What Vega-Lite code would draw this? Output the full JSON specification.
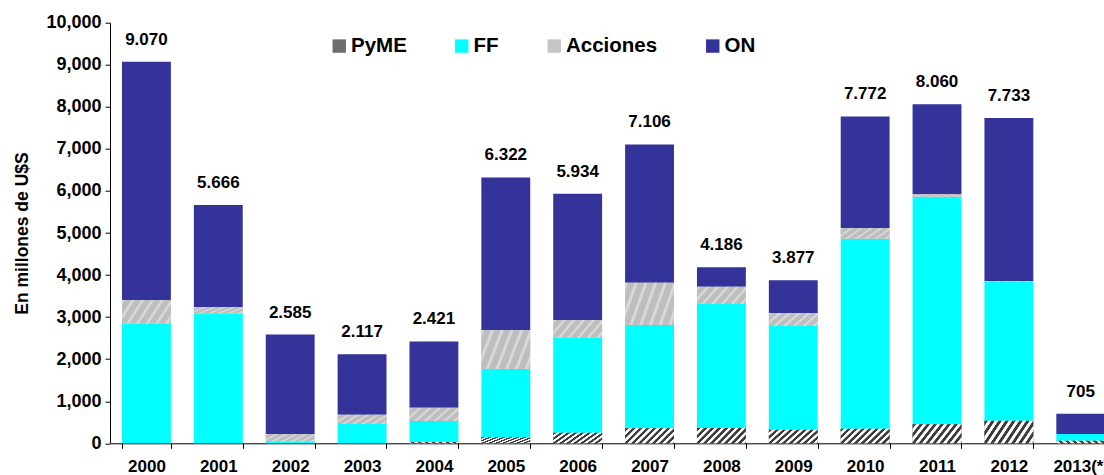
{
  "$schema": "https://vega.github.io/schema/vega-lite/v6.json",
  "width": 994,
  "height": 420.6,
  "autosize": {"type": "none"},
  "padding": {"left": 110, "top": 22.7, "right": 0, "bottom": 31.7},
  "background": "white",
  "config": {
    "view": {"stroke": null},
    "axis": {
      "labelFont": "Liberation Sans",
      "labelFontWeight": "bold",
      "labelColor": "black",
      "titleFont": "Liberation Sans",
      "titleFontWeight": "bold",
      "titleColor": "black",
      "domainColor": "black",
      "tickColor": "black",
      "grid": false
    }
  },
  "datasets": {
    "barras": [
      {"year": "2000", "serie": "PyME", "valor": 0},
      {"year": "2000", "serie": "FF", "valor": 2853},
      {"year": "2000", "serie": "Acciones", "valor": 554},
      {"year": "2000", "serie": "ON", "valor": 5663},
      {"year": "2001", "serie": "PyME", "valor": 0},
      {"year": "2001", "serie": "FF", "valor": 3090},
      {"year": "2001", "serie": "Acciones", "valor": 150},
      {"year": "2001", "serie": "ON", "valor": 2426},
      {"year": "2002", "serie": "PyME", "valor": 0},
      {"year": "2002", "serie": "FF", "valor": 30},
      {"year": "2002", "serie": "Acciones", "valor": 190},
      {"year": "2002", "serie": "ON", "valor": 2365},
      {"year": "2003", "serie": "PyME", "valor": 0},
      {"year": "2003", "serie": "FF", "valor": 459},
      {"year": "2003", "serie": "Acciones", "valor": 221},
      {"year": "2003", "serie": "ON", "valor": 1437},
      {"year": "2004", "serie": "PyME", "valor": 30},
      {"year": "2004", "serie": "FF", "valor": 500},
      {"year": "2004", "serie": "Acciones", "valor": 317},
      {"year": "2004", "serie": "ON", "valor": 1574},
      {"year": "2005", "serie": "PyME", "valor": 143},
      {"year": "2005", "serie": "FF", "valor": 1623},
      {"year": "2005", "serie": "Acciones", "valor": 928},
      {"year": "2005", "serie": "ON", "valor": 3628},
      {"year": "2006", "serie": "PyME", "valor": 252},
      {"year": "2006", "serie": "FF", "valor": 2259},
      {"year": "2006", "serie": "Acciones", "valor": 421},
      {"year": "2006", "serie": "ON", "valor": 3002},
      {"year": "2007", "serie": "PyME", "valor": 356},
      {"year": "2007", "serie": "FF", "valor": 2457},
      {"year": "2007", "serie": "Acciones", "valor": 1006},
      {"year": "2007", "serie": "ON", "valor": 3287},
      {"year": "2008", "serie": "PyME", "valor": 364},
      {"year": "2008", "serie": "FF", "valor": 2948},
      {"year": "2008", "serie": "Acciones", "valor": 412},
      {"year": "2008", "serie": "ON", "valor": 462},
      {"year": "2009", "serie": "PyME", "valor": 325},
      {"year": "2009", "serie": "FF", "valor": 2464},
      {"year": "2009", "serie": "Acciones", "valor": 309},
      {"year": "2009", "serie": "ON", "valor": 779},
      {"year": "2010", "serie": "PyME", "valor": 348},
      {"year": "2010", "serie": "FF", "valor": 4517},
      {"year": "2010", "serie": "Acciones", "valor": 254},
      {"year": "2010", "serie": "ON", "valor": 2653},
      {"year": "2011", "serie": "PyME", "valor": 452},
      {"year": "2011", "serie": "FF", "valor": 5411},
      {"year": "2011", "serie": "Acciones", "valor": 57},
      {"year": "2011", "serie": "ON", "valor": 2140},
      {"year": "2012", "serie": "PyME", "valor": 537},
      {"year": "2012", "serie": "FF", "valor": 3298},
      {"year": "2012", "serie": "Acciones", "valor": 24},
      {"year": "2012", "serie": "ON", "valor": 3874},
      {"year": "2013(*)", "serie": "PyME", "valor": 62},
      {"year": "2013(*)", "serie": "FF", "valor": 159},
      {"year": "2013(*)", "serie": "Acciones", "valor": 0},
      {"year": "2013(*)", "serie": "ON", "valor": 484}
    ],
    "totales": [
      {"year": "2000", "total": 9070, "label": "9.070"},
      {"year": "2001", "total": 5666, "label": "5.666"},
      {"year": "2002", "total": 2585, "label": "2.585"},
      {"year": "2003", "total": 2117, "label": "2.117"},
      {"year": "2004", "total": 2421, "label": "2.421"},
      {"year": "2005", "total": 6322, "label": "6.322"},
      {"year": "2006", "total": 5934, "label": "5.934"},
      {"year": "2007", "total": 7106, "label": "7.106"},
      {"year": "2008", "total": 4186, "label": "4.186"},
      {"year": "2009", "total": 3877, "label": "3.877"},
      {"year": "2010", "total": 7772, "label": "7.772"},
      {"year": "2011", "total": 8060, "label": "8.060"},
      {"year": "2012", "total": 7733, "label": "7.733"},
      {"year": "2013(*)", "total": 705, "label": "705"}
    ]
  },
  "layer": [
    {
      "data": {"name": "barras"},
      "transform": [
        {"calculate": "indexof(['PyME','FF','Acciones','ON'], datum.serie)", "as": "ord"},
        {"stack": "valor", "groupby": ["year"], "sort": [{"field": "ord", "order": "ascending"}], "as": ["v0", "v1"]}
      ],
      "encoding": {
        "x": {
          "field": "year", "type": "ordinal",
          "sort": ["2000","2001","2002","2003","2004","2005","2006","2007","2008","2009","2010","2011","2012","2013(*)"],
          "scale": {"range": [0.5, 1006.7], "paddingInner": 0.32, "paddingOuter": 0.16},
          "axis": {"title": null, "labelAngle": 0, "tickBand": "extent", "tickSize": 5, "labelPadding": 10, "labelFontSize": 17}
        },
        "y": {
          "field": "v1", "type": "quantitative",
          "scale": {"domain": [0, 10000], "nice": false},
          "axis": {
            "title": "En millones de U$S",
            "values": [0,1000,2000,3000,4000,5000,6000,7000,8000,9000,10000],
            "format": ",.0f",
            "tickSize": 5,
            "labelPadding": 4,
            "labelFontSize": 18,
            "titleFontSize": 17.5,
            "titlePadding": 14
          }
        },
        "y2": {"field": "v0"}
      },
      "layer": [
        {
          "mark": {"type": "bar"},
          "encoding": {
            "color": {
              "field": "serie", "type": "nominal",
              "scale": {"domain": ["PyME","FF","Acciones","ON"], "range": ["#6e6e6e","#00FFFF","#C6C6C6","#333399"]},
              "legend": {
                "title": null,
                "orient": "none",
                "direction": "horizontal",
                "legendX": 219,
                "legendY": 13,
                "padding": 0,
                "symbolType": "square",
                "symbolSize": 180,
                "symbolStrokeWidth": 0,
                "symbolOpacity": 1,
                "labelOffset": 1.5,
                "columnPadding": 44.5,
                "labelFont": "Liberation Sans",
                "labelFontWeight": "bold",
                "labelFontSize": 20.5,
                "labelColor": "black"
              }
            }
          }
        },
        {
          "transform": [{"filter": "datum.serie === 'PyME'"}],
          "mark": {"type": "bar", "fill": {"gradient": "linear", "x1": 0, "y1": 0, "x2": 1.3, "y2": 0.4, "stops": [
            {"offset": 0.005, "color": "#3c3c3c"}, {"offset": 0.045, "color": "#3c3c3c"}, {"offset": 0.055, "color": "#ffffff"}, {"offset": 0.095, "color": "#ffffff"},
            {"offset": 0.105, "color": "#3c3c3c"}, {"offset": 0.145, "color": "#3c3c3c"}, {"offset": 0.155, "color": "#ffffff"}, {"offset": 0.195, "color": "#ffffff"},
            {"offset": 0.205, "color": "#3c3c3c"}, {"offset": 0.245, "color": "#3c3c3c"}, {"offset": 0.255, "color": "#ffffff"}, {"offset": 0.295, "color": "#ffffff"},
            {"offset": 0.305, "color": "#3c3c3c"}, {"offset": 0.345, "color": "#3c3c3c"}, {"offset": 0.355, "color": "#ffffff"}, {"offset": 0.395, "color": "#ffffff"},
            {"offset": 0.405, "color": "#3c3c3c"}, {"offset": 0.445, "color": "#3c3c3c"}, {"offset": 0.455, "color": "#ffffff"}, {"offset": 0.495, "color": "#ffffff"},
            {"offset": 0.505, "color": "#3c3c3c"}, {"offset": 0.545, "color": "#3c3c3c"}, {"offset": 0.555, "color": "#ffffff"}, {"offset": 0.595, "color": "#ffffff"},
            {"offset": 0.605, "color": "#3c3c3c"}, {"offset": 0.645, "color": "#3c3c3c"}, {"offset": 0.655, "color": "#ffffff"}, {"offset": 0.695, "color": "#ffffff"},
            {"offset": 0.705, "color": "#3c3c3c"}, {"offset": 0.745, "color": "#3c3c3c"}, {"offset": 0.755, "color": "#ffffff"}, {"offset": 0.795, "color": "#ffffff"},
            {"offset": 0.805, "color": "#3c3c3c"}, {"offset": 0.845, "color": "#3c3c3c"}, {"offset": 0.855, "color": "#ffffff"}, {"offset": 0.895, "color": "#ffffff"},
            {"offset": 0.905, "color": "#3c3c3c"}, {"offset": 0.945, "color": "#3c3c3c"}, {"offset": 0.955, "color": "#ffffff"}, {"offset": 0.995, "color": "#ffffff"}
          ]}}
        },
        {
          "transform": [{"filter": "datum.serie === 'Acciones'"}],
          "mark": {"type": "bar", "fill": {"gradient": "linear", "x1": 0, "y1": 0, "x2": 1.3, "y2": 0.4, "stops": [
            {"offset": 0.005, "color": "#d8d8d8"}, {"offset": 0.035, "color": "#d8d8d8"}, {"offset": 0.05, "color": "#bebebe"}, {"offset": 0.13, "color": "#bebebe"},
            {"offset": 0.145, "color": "#d8d8d8"}, {"offset": 0.175, "color": "#d8d8d8"}, {"offset": 0.19, "color": "#bebebe"}, {"offset": 0.27, "color": "#bebebe"},
            {"offset": 0.285, "color": "#d8d8d8"}, {"offset": 0.315, "color": "#d8d8d8"}, {"offset": 0.33, "color": "#bebebe"}, {"offset": 0.41, "color": "#bebebe"},
            {"offset": 0.425, "color": "#d8d8d8"}, {"offset": 0.455, "color": "#d8d8d8"}, {"offset": 0.47, "color": "#bebebe"}, {"offset": 0.55, "color": "#bebebe"},
            {"offset": 0.565, "color": "#d8d8d8"}, {"offset": 0.595, "color": "#d8d8d8"}, {"offset": 0.61, "color": "#bebebe"}, {"offset": 0.69, "color": "#bebebe"},
            {"offset": 0.705, "color": "#d8d8d8"}, {"offset": 0.735, "color": "#d8d8d8"}, {"offset": 0.75, "color": "#bebebe"}, {"offset": 0.83, "color": "#bebebe"},
            {"offset": 0.845, "color": "#d8d8d8"}, {"offset": 0.875, "color": "#d8d8d8"}, {"offset": 0.89, "color": "#bebebe"}, {"offset": 0.97, "color": "#bebebe"}
          ]}}
        }
      ]
    },
    {
      "data": {"name": "totales"},
      "mark": {"type": "text", "font": "Liberation Sans", "fontWeight": "bold", "fontSize": 17, "baseline": "alphabetic", "dy": -17, "color": "black"},
      "encoding": {
        "x": {
          "field": "year", "type": "ordinal",
          "sort": ["2000","2001","2002","2003","2004","2005","2006","2007","2008","2009","2010","2011","2012","2013(*)"]
        },
        "y": {"field": "total", "type": "quantitative", "title": "En millones de U$S"},
        "text": {"field": "label"}
      }
    }
  ]
}
